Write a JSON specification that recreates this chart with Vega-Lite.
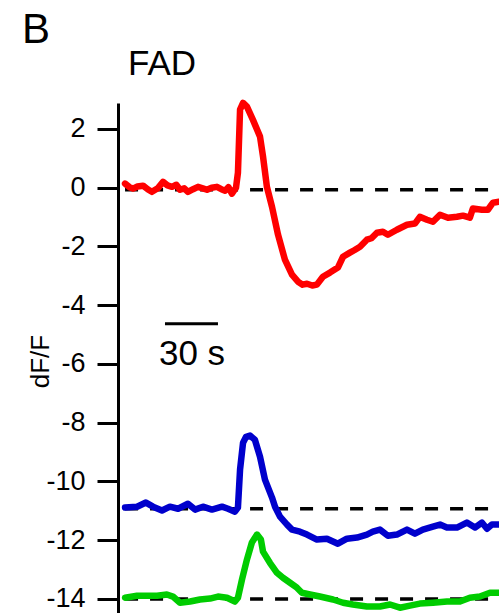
{
  "$schema": "https://vega.github.io/schema/vega-lite/v6.json",
  "width": 381,
  "height": 510,
  "autosize": {"type": "none"},
  "padding": {"left": 118, "top": 103, "right": 0, "bottom": 0},
  "background": "white",
  "config": {"view": {"stroke": null}, "font": "Liberation Sans"},
  "datasets": {
    "traces": [
      {"series": "red", "t": 4.0, "v": 0.14}, {"series": "red", "t": 6.5, "v": 0.02}, {"series": "red", "t": 8.5, "v": -0.03}, {"series": "red", "t": 11.0, "v": 0.04}, {"series": "red", "t": 14.2, "v": 0.07}, {"series": "red", "t": 17.0, "v": -0.06}, {"series": "red", "t": 19.2, "v": -0.14}, {"series": "red", "t": 22.5, "v": -0.02}, {"series": "red", "t": 25.5, "v": 0.2}, {"series": "red", "t": 28.0, "v": 0.08}, {"series": "red", "t": 30.6, "v": 0.03}, {"series": "red", "t": 33.0, "v": 0.1}, {"series": "red", "t": 35.1, "v": -0.07}, {"series": "red", "t": 37.5, "v": -0.02}, {"series": "red", "t": 39.6, "v": -0.14}, {"series": "red", "t": 42.5, "v": -0.05}, {"series": "red", "t": 45.3, "v": 0.03}, {"series": "red", "t": 48.0, "v": -0.02}, {"series": "red", "t": 50.4, "v": -0.07}, {"series": "red", "t": 53.0, "v": 0.0}, {"series": "red", "t": 56.0, "v": 0.03}, {"series": "red", "t": 58.5, "v": -0.05}, {"series": "red", "t": 60.6, "v": -0.1}, {"series": "red", "t": 62.5, "v": 0.02}, {"series": "red", "t": 64.5, "v": -0.2}, {"series": "red", "t": 66.8, "v": 0.0}, {"series": "red", "t": 67.9, "v": 0.51}, {"series": "red", "t": 69.1, "v": 2.66}, {"series": "red", "t": 70.8, "v": 2.89}, {"series": "red", "t": 73.0, "v": 2.76}, {"series": "red", "t": 76.4, "v": 2.31}, {"series": "red", "t": 80.4, "v": 1.74}, {"series": "red", "t": 82.1, "v": 1.06}, {"series": "red", "t": 84.3, "v": 0.03}, {"series": "red", "t": 87.2, "v": -0.65}, {"series": "red", "t": 90.6, "v": -1.6}, {"series": "red", "t": 94.5, "v": -2.45}, {"series": "red", "t": 98.5, "v": -2.96}, {"series": "red", "t": 101.9, "v": -3.2}, {"series": "red", "t": 104.5, "v": -3.3}, {"series": "red", "t": 107.0, "v": -3.27}, {"series": "red", "t": 110.0, "v": -3.33}, {"series": "red", "t": 112.6, "v": -3.3}, {"series": "red", "t": 116.0, "v": -3.03}, {"series": "red", "t": 120.0, "v": -2.89}, {"series": "red", "t": 124.5, "v": -2.72}, {"series": "red", "t": 127.4, "v": -2.35}, {"series": "red", "t": 131.3, "v": -2.21}, {"series": "red", "t": 134.0, "v": -2.12}, {"series": "red", "t": 137.0, "v": -2.01}, {"series": "red", "t": 140.9, "v": -1.77}, {"series": "red", "t": 143.5, "v": -1.72}, {"series": "red", "t": 146.6, "v": -1.53}, {"series": "red", "t": 150.0, "v": -1.5}, {"series": "red", "t": 152.8, "v": -1.6}, {"series": "red", "t": 157.9, "v": -1.43}, {"series": "red", "t": 163.6, "v": -1.26}, {"series": "red", "t": 168.1, "v": -1.22}, {"series": "red", "t": 170.9, "v": -0.99}, {"series": "red", "t": 174.9, "v": -1.09}, {"series": "red", "t": 178.3, "v": -1.16}, {"series": "red", "t": 182.3, "v": -0.92}, {"series": "red", "t": 186.8, "v": -1.02}, {"series": "red", "t": 191.9, "v": -0.99}, {"series": "red", "t": 195.3, "v": -0.95}, {"series": "red", "t": 199.2, "v": -1.02}, {"series": "red", "t": 200.9, "v": -0.71}, {"series": "red", "t": 206.0, "v": -0.75}, {"series": "red", "t": 209.4, "v": -0.75}, {"series": "red", "t": 212.3, "v": -0.51}, {"series": "red", "t": 215.7, "v": -0.48},

      {"series": "blue", "t": 4.0, "v": -10.89}, {"series": "blue", "t": 10.8, "v": -10.86}, {"series": "blue", "t": 15.8, "v": -10.72}, {"series": "blue", "t": 19.8, "v": -10.86}, {"series": "blue", "t": 24.9, "v": -10.99}, {"series": "blue", "t": 29.4, "v": -10.86}, {"series": "blue", "t": 34.0, "v": -10.93}, {"series": "blue", "t": 39.6, "v": -10.76}, {"series": "blue", "t": 43.6, "v": -10.96}, {"series": "blue", "t": 48.1, "v": -10.86}, {"series": "blue", "t": 53.2, "v": -10.96}, {"series": "blue", "t": 58.9, "v": -10.86}, {"series": "blue", "t": 62.3, "v": -10.93}, {"series": "blue", "t": 66.2, "v": -11.03}, {"series": "blue", "t": 67.9, "v": -10.89}, {"series": "blue", "t": 69.1, "v": -9.6}, {"series": "blue", "t": 70.8, "v": -8.68}, {"series": "blue", "t": 72.5, "v": -8.48}, {"series": "blue", "t": 74.7, "v": -8.44}, {"series": "blue", "t": 77.5, "v": -8.58}, {"series": "blue", "t": 80.4, "v": -9.16}, {"series": "blue", "t": 83.2, "v": -9.94}, {"series": "blue", "t": 87.2, "v": -10.55}, {"series": "blue", "t": 88.9, "v": -10.86}, {"series": "blue", "t": 91.7, "v": -11.2}, {"series": "blue", "t": 95.7, "v": -11.47}, {"series": "blue", "t": 98.5, "v": -11.64}, {"series": "blue", "t": 103.0, "v": -11.71}, {"series": "blue", "t": 107.0, "v": -11.81}, {"series": "blue", "t": 112.6, "v": -11.98}, {"series": "blue", "t": 118.3, "v": -11.95}, {"series": "blue", "t": 124.5, "v": -12.12}, {"series": "blue", "t": 129.6, "v": -11.95}, {"series": "blue", "t": 135.3, "v": -11.91}, {"series": "blue", "t": 140.9, "v": -11.81}, {"series": "blue", "t": 144.3, "v": -11.71}, {"series": "blue", "t": 148.3, "v": -11.64}, {"series": "blue", "t": 152.8, "v": -11.85}, {"series": "blue", "t": 157.9, "v": -11.81}, {"series": "blue", "t": 163.6, "v": -11.64}, {"series": "blue", "t": 168.1, "v": -11.78}, {"series": "blue", "t": 172.6, "v": -11.64}, {"series": "blue", "t": 178.3, "v": -11.54}, {"series": "blue", "t": 182.3, "v": -11.47}, {"series": "blue", "t": 186.2, "v": -11.57}, {"series": "blue", "t": 191.9, "v": -11.57}, {"series": "blue", "t": 197.5, "v": -11.4}, {"series": "blue", "t": 202.1, "v": -11.57}, {"series": "blue", "t": 206.0, "v": -11.4}, {"series": "blue", "t": 208.9, "v": -11.61}, {"series": "blue", "t": 211.7, "v": -11.47}, {"series": "blue", "t": 215.7, "v": -11.47},

      {"series": "green", "t": 4.0, "v": -13.96}, {"series": "green", "t": 10.8, "v": -13.89}, {"series": "green", "t": 16.4, "v": -13.89}, {"series": "green", "t": 22.1, "v": -13.89}, {"series": "green", "t": 27.7, "v": -13.85}, {"series": "green", "t": 31.1, "v": -13.92}, {"series": "green", "t": 35.1, "v": -14.13}, {"series": "green", "t": 40.8, "v": -14.09}, {"series": "green", "t": 46.4, "v": -14.02}, {"series": "green", "t": 52.1, "v": -13.99}, {"series": "green", "t": 56.6, "v": -13.92}, {"series": "green", "t": 61.7, "v": -13.96}, {"series": "green", "t": 66.2, "v": -14.09}, {"series": "green", "t": 67.9, "v": -13.96}, {"series": "green", "t": 70.2, "v": -13.34}, {"series": "green", "t": 73.0, "v": -12.66}, {"series": "green", "t": 75.8, "v": -12.08}, {"series": "green", "t": 78.7, "v": -11.81}, {"series": "green", "t": 80.9, "v": -11.98}, {"series": "green", "t": 82.1, "v": -12.39}, {"series": "green", "t": 86.0, "v": -12.77}, {"series": "green", "t": 90.0, "v": -13.11}, {"series": "green", "t": 93.4, "v": -13.28}, {"series": "green", "t": 97.4, "v": -13.45}, {"series": "green", "t": 101.3, "v": -13.62}, {"series": "green", "t": 104.1, "v": -13.79}, {"series": "green", "t": 108.7, "v": -13.85}, {"series": "green", "t": 114.3, "v": -13.92}, {"series": "green", "t": 121.7, "v": -14.02}, {"series": "green", "t": 127.4, "v": -14.13}, {"series": "green", "t": 133.0, "v": -14.19}, {"series": "green", "t": 140.9, "v": -14.26}, {"series": "green", "t": 148.3, "v": -14.26}, {"series": "green", "t": 154.0, "v": -14.19}, {"series": "green", "t": 159.6, "v": -14.3}, {"series": "green", "t": 165.3, "v": -14.23}, {"series": "green", "t": 170.9, "v": -14.16}, {"series": "green", "t": 178.3, "v": -14.13}, {"series": "green", "t": 186.2, "v": -14.09}, {"series": "green", "t": 193.6, "v": -14.09}, {"series": "green", "t": 199.2, "v": -13.96}, {"series": "green", "t": 204.9, "v": -13.92}, {"series": "green", "t": 210.6, "v": -13.79}, {"series": "green", "t": 215.7, "v": -13.79}
    ],
    "baselines": [
      {"series": "red", "v": -0.07, "t0": 4, "t1": 215.7},
      {"series": "blue", "v": -10.93, "t0": 4, "t1": 215.7},
      {"series": "green", "v": -14.0, "t0": 4, "t1": 215.7}
    ],
    "scalebar": [{"t0": 26.6, "t1": 56.6, "v": -4.63}],
    "labels": [
      {"text": "30 s", "t": 41.9, "v": -6.03, "kind": "scale"},
      {"text": "FAD", "t": 5.7, "v": 3.85, "kind": "title"},
      {"text": "B", "t": -54.3, "v": 4.94, "kind": "panel"}
    ]
  },
  "layer": [
    {
      "data": {"name": "baselines"},
      "mark": {"type": "rule", "color": "black", "strokeWidth": 3.5, "strokeDash": [13, 12]},
      "encoding": {
        "x": {"field": "t0", "type": "quantitative", "scale": {"domain": [0, 215.7], "nice": false, "zero": false}, "axis": null},
        "x2": {"field": "t1"},
        "y": {"field": "v", "type": "quantitative", "scale": {"domain": [-14.48, 2.885], "nice": false, "zero": false},
          "axis": {"title": "dF/F", "values": [2, 0, -2, -4, -6, -8, -10, -12, -14], "grid": false,
            "labelExpr": "datum.value < 0 ? '-' + abs(datum.value) : '' + datum.value",
            "domainColor": "black", "domainWidth": 3, "tickColor": "black", "tickWidth": 3, "tickSize": 21,
            "labelFont": "Liberation Sans", "labelFontSize": 27, "labelColor": "black", "labelPadding": 12,
            "labelFlush": false, "labelOverlap": false,
            "titleFont": "Liberation Sans", "titleFontSize": 26, "titleFontWeight": "normal", "titleColor": "black",
            "titleX": -78, "titleY": 258, "titleAngle": -90, "titleBaseline": "middle", "titleAlign": "center"}}
      }
    },
    {
      "data": {"name": "traces"},
      "mark": {"type": "line", "strokeWidth": 6.5, "strokeJoin": "round", "strokeCap": "round"},
      "encoding": {
        "x": {"field": "t", "type": "quantitative"},
        "y": {"field": "v", "type": "quantitative"},
        "color": {"field": "series", "type": "nominal", "scale": {"domain": ["red", "blue", "green"], "range": ["#ff0000", "#0000cc", "#00cc00"]}, "legend": null}
      }
    },
    {
      "data": {"name": "scalebar"},
      "mark": {"type": "rule", "color": "black", "strokeWidth": 3},
      "encoding": {
        "x": {"field": "t0", "type": "quantitative"},
        "x2": {"field": "t1"},
        "y": {"field": "v", "type": "quantitative"}
      }
    },
    {
      "data": {"name": "labels"},
      "transform": [{"filter": "datum.kind === 'scale'"}],
      "mark": {"type": "text", "font": "Liberation Sans", "fontSize": 35, "color": "black", "baseline": "alphabetic", "align": "center"},
      "encoding": {
        "x": {"field": "t", "type": "quantitative"},
        "y": {"field": "v", "type": "quantitative"},
        "text": {"field": "text"}
      }
    },
    {
      "data": {"name": "labels"},
      "transform": [{"filter": "datum.kind === 'title'"}],
      "mark": {"type": "text", "font": "Liberation Sans", "fontSize": 35, "color": "black", "baseline": "alphabetic", "align": "left"},
      "encoding": {
        "x": {"field": "t", "type": "quantitative"},
        "y": {"field": "v", "type": "quantitative"},
        "text": {"field": "text"}
      }
    },
    {
      "data": {"name": "labels"},
      "transform": [{"filter": "datum.kind === 'panel'"}],
      "mark": {"type": "text", "font": "Liberation Sans", "fontSize": 42, "color": "black", "baseline": "alphabetic", "align": "left"},
      "encoding": {
        "x": {"field": "t", "type": "quantitative"},
        "y": {"field": "v", "type": "quantitative"},
        "text": {"field": "text"}
      }
    }
  ]
}
